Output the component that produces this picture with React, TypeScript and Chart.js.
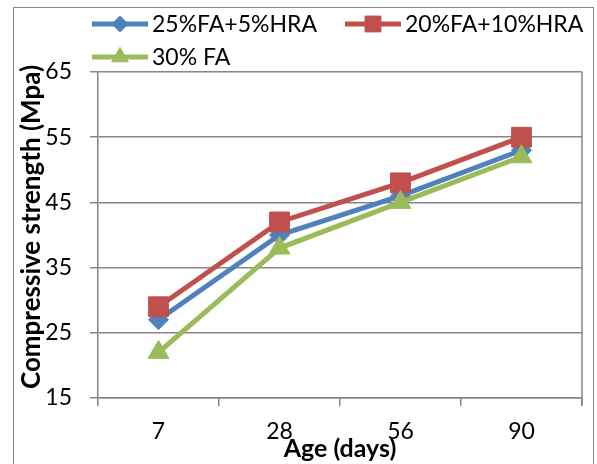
import React, { useEffect, useRef } from "react";
import { Chart, registerables } from "chart.js";
import { drawPoint } from "chart.js/helpers";

Chart.register(...registerables);

const categories = ["7", "28", "56", "90"];
const seriesLabels = ["25%FA+5%HRA", "20%FA+10%HRA", "30% FA"];
const seriesColors = ["#4F81BD", "#C0504D", "#9BBB59"];
const seriesMarkers = ["rectRot", "rect", "triangle"];
const seriesRadius = [10, 14, 12];
const blend25FA5HRA = [27, 40, 46, 53];
const blend20FA10HRA = [29, 42, 48, 55];
const fa30 = [22, 38, 45, 52];
const yMin = 15;
const yMax = 65;
const yStep = 10;
const xTitle = "Age (days)";
const yTitle = "Compressive strength (Mpa)";

const FONT = "Lato, 'Open Sans', sans-serif";
const GRID = "#868686";

const framePlugin = {
  id: "framePlugin",
  beforeDraw(chart: any) {
    const ctx = chart.ctx;
    ctx.save();
    ctx.fillStyle = "#ffffff";
    ctx.fillRect(0, 0, chart.width, chart.height);
    ctx.restore();
  },
  afterDraw(chart: any) {
    const ctx = chart.ctx;
    const area = chart.chartArea;
    ctx.save();
    // outer frame
    ctx.strokeStyle = GRID;
    ctx.lineWidth = 1;
    ctx.strokeRect(13.5, 7.5, 580, 520);
    // plot right border
    ctx.lineWidth = 1.5;
    ctx.beginPath();
    ctx.moveTo(area.right, area.top);
    ctx.lineTo(area.right, area.bottom + 8);
    ctx.stroke();

    // legend
    const pos = [
      { x: 92, y: 24 },
      { x: 345, y: 24 },
      { x: 92, y: 57 },
    ];
    chart.data.datasets.forEach((ds: any, i: number) => {
      const p = pos[i];
      ctx.strokeStyle = ds.borderColor;
      ctx.lineWidth = 5;
      ctx.beginPath();
      ctx.moveTo(p.x, p.y);
      ctx.lineTo(p.x + 56, p.y);
      ctx.stroke();
      ctx.fillStyle = ds.backgroundColor;
      ctx.strokeStyle = ds.borderColor;
      ctx.lineWidth = 1;
      drawPoint(ctx, { pointStyle: ds.pointStyle, radius: ds.pointRadius * 0.8, rotation: 0, borderWidth: 1 }, p.x + 28, p.y);
      ctx.fillStyle = "#000000";
      ctx.font = `23px ${FONT}`;
      ctx.textAlign = "left";
      ctx.textBaseline = "middle";
      ctx.fillText(ds.label, p.x + 60, p.y + 1);
    });

    // y axis title
    ctx.save();
    ctx.translate(32, 227);
    ctx.rotate(-Math.PI / 2);
    ctx.fillStyle = "#000000";
    ctx.font = `bold 26px ${FONT}`;
    ctx.textAlign = "center";
    ctx.textBaseline = "middle";
    ctx.fillText(yTitle, 0, 0);
    ctx.restore();
    ctx.restore();
  },
};

export default function App() {
  const ref = useRef<HTMLCanvasElement | null>(null);
  useEffect(() => {
    document.body.style.margin = "0";
    const values = [blend25FA5HRA, blend20FA10HRA, fa30];
    const datasets = values.map((data, i) => ({
      label: seriesLabels[i],
      data,
      borderColor: seriesColors[i],
      backgroundColor: seriesColors[i],
      borderWidth: 5,
      pointStyle: seriesMarkers[i],
      pointRadius: seriesRadius[i],
      pointBorderWidth: 1,
      pointBackgroundColor: seriesColors[i],
      pointBorderColor: seriesColors[i],
      tension: 0,
      order: 2 - i,
    }));
    const chart = new Chart(ref.current as HTMLCanvasElement, {
      type: "line",
      data: { labels: categories, datasets },
      plugins: [framePlugin],
      options: {
        animation: false,
        responsive: false,
        layout: { padding: { top: 72, right: 4, bottom: 0, left: 0 } },
        plugins: { legend: { display: false }, tooltip: { enabled: false } },
        scales: {
          x: {
            type: "category",
            offset: true,
            afterFit: (s: any) => {
              s.height = 66;
            },
            grid: {
              offset: true,
              drawOnChartArea: false,
              drawTicks: true,
              tickLength: 8,
              color: GRID,
              lineWidth: 1.5,
            },
            border: { color: GRID, width: 1.5 },
            ticks: {
              color: "#000000",
              font: { family: FONT, size: 23 },
              padding: 12,
              maxRotation: 0,
            },
            title: {
              display: true,
              text: xTitle,
              color: "#000000",
              font: { family: FONT, size: 25, weight: "bold" },
              padding: { top: 0, bottom: 0 },
            },
          },
          y: {
            min: yMin,
            max: yMax,
            afterFit: (s: any) => {
              s.width = 98;
            },
            ticks: {
              stepSize: yStep,
              color: "#000000",
              font: { family: FONT, size: 23 },
              padding: 18,
            },
            grid: {
              color: GRID,
              lineWidth: 1.5,
              tickLength: 8,
            },
            border: { color: GRID, width: 1.5 },
          },
        },
      },
    } as any);
    return () => chart.destroy();
  }, []);
  return <canvas ref={ref} width={597} height={464} style={{ display: "block" }} />;
}
